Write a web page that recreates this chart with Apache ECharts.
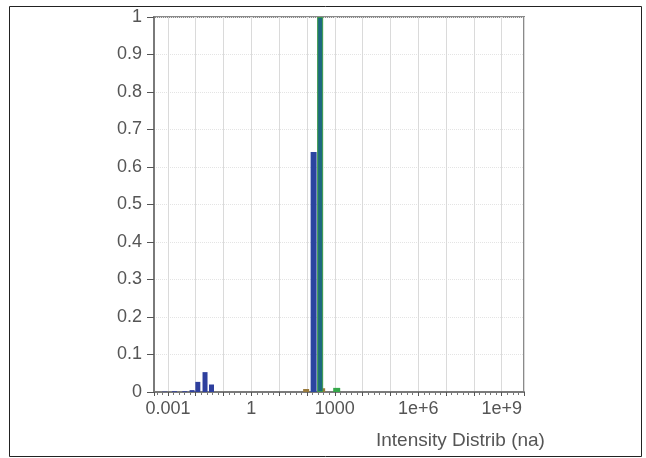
<!DOCTYPE html>
<html>
<head>
<meta charset="utf-8">
<title>Intensity Distrib</title>
<script src="https://cdn.jsdelivr.net/npm/echarts@6/dist/echarts.min.js"></script>
<style>
  html, body { margin: 0; padding: 0; background: #fff; }
  #main { width: 646px; height: 458px; }
</style>
</head>
<body>
<div id="main"></div>
<script>
// size vs intensity fraction; the x axis is drawn on log10(size)
var smallBlue = [[0.0008, 0.001], [0.0018, 0.002], [0.0042, 0.002], [0.0077, 0.005], [0.0124, 0.027], [0.0225, 0.053], [0.0385, 0.02]];
var mainBlue = [[173, 0.64]];
var teal = [[297, 1.0]];
var greenBumps = [[1120, 0.011]];
var brownBumps = [[93, 0.008], [350, 0.01]];
var labelExps = [-3, 0, 3, 6, 9];
var labelText = ['0.001', '1', '1000', '1e+6', '1e+9'];

function toLog(arr) {
  return arr.map(function (p) { return [Math.log10(p[0]), p[1]]; });
}

var chart = echarts.init(document.getElementById('main'));

var FONT = 'Liberation Sans, Arial, sans-serif';

var option = {
  animation: false,
  textStyle: { fontFamily: FONT },
  grid: {
    left: 154, right: 122, top: 17, bottom: 66,
    show: true, borderColor: '#8a8a8a', borderWidth: 2
  },
  graphic: [
    { type: 'rect', left: 7, top: 4, shape: { width: 632, height: 450 },
      style: { fill: 'none', stroke: '#222', lineWidth: 1 } },
    { type: 'text', left: 376, top: 431,
      style: { text: 'Intensity Distrib (na)', fill: '#555', fontSize: 19, fontFamily: FONT,
               width: 170, overflow: 'truncate', ellipsis: '' } }
  ],
  xAxis: {
    type: 'value', min: -3.5, max: 9.8, splitNumber: 13,
    axisLine: { onZero: false, lineStyle: { color: '#7a7a7a', width: 2 } },
    axisTick: { inside: false, length: 4, lineStyle: { color: '#555' } },
    minorTick: { show: true, splitNumber: 5, length: 3, lineStyle: { color: '#777' } },
    splitLine: { show: true, lineStyle: { color: '#dadada', width: 1 } },
    axisLabel: {
      color: '#555', fontSize: 18, margin: 8, showMinLabel: false, showMaxLabel: false,
      formatter: function (v) {
        var e = Math.round(v);
        if (Math.abs(v - e) > 0.01) return '';
        var i = labelExps.indexOf(e);
        return i >= 0 ? labelText[i] : '';
      }
    }
  },
  yAxis: {
    type: 'value', min: 0, max: 1, interval: 0.1,
    axisLine: { show: true, onZero: false, lineStyle: { color: '#7a7a7a', width: 2 } },
    axisTick: { show: true, length: 7, lineStyle: { color: '#555' } },
    splitLine: { show: true, lineStyle: { color: '#e4e4e4', type: 'dotted' } },
    axisLabel: {
      color: '#555', fontSize: 18, margin: 12,
      formatter: function (v) { return String(Math.round(v * 10) / 10); }
    }
  },
  series: [
    { type: 'bar', data: toLog(smallBlue), barWidth: 5, barGap: '-100%',
      itemStyle: { color: '#2e3f9e' } },
    { type: 'bar', data: toLog(brownBumps), barWidth: 6, barGap: '-100%',
      itemStyle: { color: '#9a7a3c' } },
    { type: 'bar', data: toLog(greenBumps), barWidth: 7, barGap: '-100%',
      itemStyle: { color: '#35a84a' } },
    { type: 'bar', data: toLog(mainBlue), barWidth: 6, barGap: '-100%',
      itemStyle: { color: '#2b45a0' } },
    { type: 'bar', data: toLog(teal), barWidth: 6, barGap: '-100%',
      itemStyle: { color: '#1d6a80', borderColor: '#3a9a48', borderWidth: 1 } }
  ]
};

chart.setOption(option);
</script>
</body>
</html>
